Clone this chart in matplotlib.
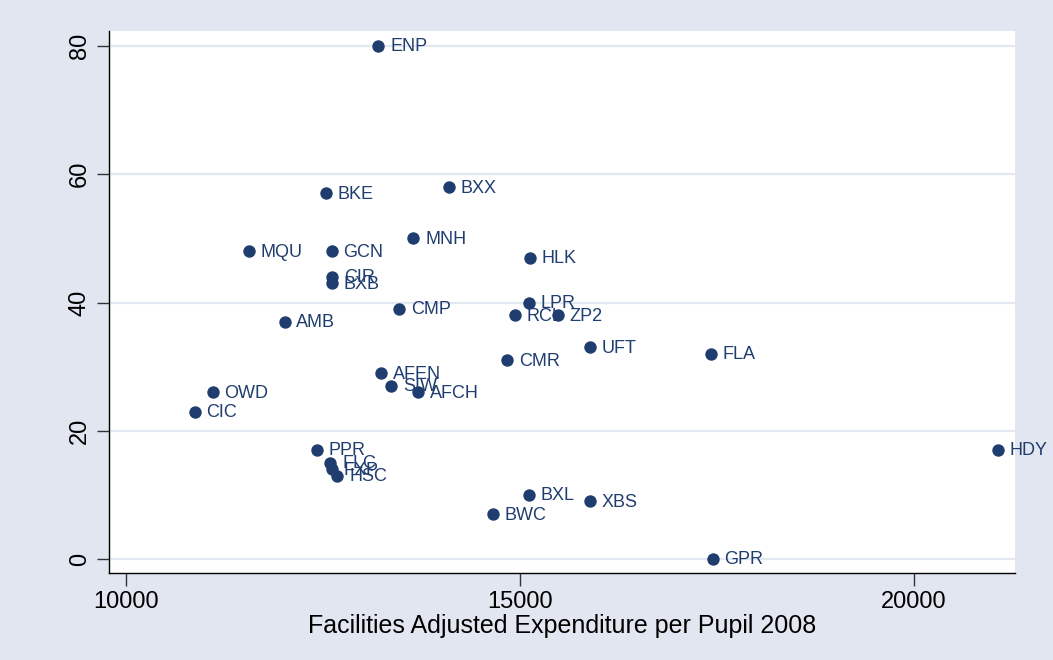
import matplotlib.pyplot as plt

codes = ["ENP", "BKE", "BXX", "MQU", "GCN", "MNH", "HLK", "CIR", "BXB", "LPR",
         "CMP", "RCL", "ZP2", "AMB", "UFT", "FLA", "CMR", "AFEN", "SIW", "AFCH",
         "OWD", "CIC", "HDY", "PPR", "FLC", "FXP", "HSC", "BXL", "XBS", "BWC", "GPR"]
expend = [13203, 12532, 14101, 11557, 12608, 13646, 15127, 12620, 12608, 15114,
          13468, 14937, 15481, 12013, 15886, 17418, 14835, 13241, 13367, 13709,
          11101, 10873, 21063, 12418, 12595, 12608, 12684, 15114, 15886, 14658, 17443]
score = [80, 57, 58, 48, 48, 50, 47, 44, 43, 40,
         39, 38, 38, 37, 33, 32, 31, 29, 27, 26,
         26, 23, 17, 17, 15, 14, 13, 10, 9, 7, 0]

navy = "#1f3d6e"
plt.rcParams['font.family'] = ['Liberation Sans', 'DejaVu Sans']

fig = plt.figure(figsize=(10.53, 6.60), dpi=100, facecolor="#e1e6f0")
# plot region: x 109..1015 px, y 31..573 px
ax = fig.add_axes([109 / 1053, 87 / 660, 906 / 1053, 542 / 660])
ax.set_facecolor("white")

ax.scatter(expend, score, s=80, color=navy, zorder=3, linewidths=0)
for c, x, y in zip(codes, expend, score):
    ax.annotate(c, (x, y), xytext=(8.5, -0.7), textcoords="offset points",
                va="center", ha="left", fontsize=13, color=navy, zorder=4)

# 10000 -> px 126, 20000 -> px 914 ; 80 -> px 46, 0 -> px 559
ppx = (914 - 126) / 10000
ax.set_xlim(10000 - (126 - 109) / ppx, 10000 + (1015 - 126) / ppx)
ppy = (559 - 46) / 80
ax.set_ylim(-(573 - 559) / ppy, 80 + (46 - 31) / ppy)
ax.set_xticks([10000, 15000, 20000])
ax.set_yticks([0, 20, 40, 60, 80])
ax.grid(axis="y", color="#e3e8f1", linewidth=1.6, zorder=0)
ax.set_axisbelow(True)
for s in ["top", "right"]:
    ax.spines[s].set_visible(False)
for s in ["left", "bottom"]:
    ax.spines[s].set_color("black")
    ax.spines[s].set_linewidth(1.0)
ax.tick_params(axis="both", length=9, width=1, labelsize=17, color="#333333", pad=4)
ax.tick_params(axis="y", labelrotation=90)
for lab in ax.get_yticklabels():
    lab.set_va("center")
ax.set_xlabel("Facilities Adjusted Expenditure per Pupil 2008", fontsize=18, labelpad=1)

fig.savefig("out.png", dpi=100, facecolor=fig.get_facecolor())
